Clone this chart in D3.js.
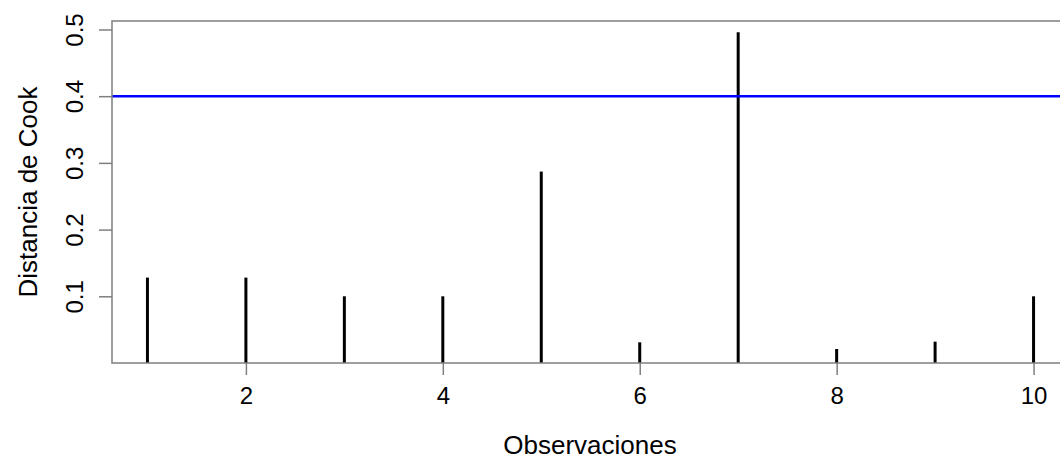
<!DOCTYPE html>
<html>
<head>
<meta charset="utf-8">
<script src="https://cdn.jsdelivr.net/npm/d3@7"></script>
<style>
  body { margin: 0; background: #fff; }
  text { font-family: "Liberation Sans", Arial, sans-serif; fill: #000; }
</style>
</head>
<body>
<svg id="chart"></svg>
<script>
// Cook's distance per observation
const observations = [1, 2, 3, 4, 5, 6, 7, 8, 9, 10];
const cookValues = [0.128, 0.128, 0.100, 0.100, 0.287, 0.031, 0.496, 0.021, 0.032, 0.100];
const cutoff = 0.4;
const xTicks = [2, 4, 6, 8, 10];
const yTicks = [0.1, 0.2, 0.3, 0.4, 0.5];

const svgWidth = 1060;
const svgHeight = 460;
const plot = { left: 112, top: 21, right: 1069, bottom: 363 };

const svg = d3.select('#chart')
  .attr('width', svgWidth)
  .attr('height', svgHeight);

const xScale = d3.scaleLinear()
  .domain([0.64, 10.36])
  .range([plot.left, plot.right]);

const yScale = d3.scaleLinear()
  .domain([0, 0.5127])
  .range([plot.bottom, plot.top]);

svg.append('defs').append('clipPath')
  .attr('id', 'plotClip')
  .append('rect')
  .attr('x', plot.left)
  .attr('y', plot.top)
  .attr('width', plot.right - plot.left)
  .attr('height', plot.bottom - plot.top);

const inner = svg.append('g').attr('clip-path', 'url(#plotClip)');

// vertical "h" lines
inner.selectAll('.spike')
  .data(observations)
  .enter()
  .append('line')
  .attr('class', 'spike')
  .attr('x1', d => xScale(d))
  .attr('x2', d => xScale(d))
  .attr('y1', yScale(0))
  .attr('y2', (d, i) => yScale(cookValues[i]))
  .attr('stroke', '#000')
  .attr('stroke-width', 3);

// cutoff line
inner.append('line')
  .attr('x1', plot.left)
  .attr('x2', plot.right)
  .attr('y1', yScale(cutoff))
  .attr('y2', yScale(cutoff))
  .attr('stroke', '#0000ff')
  .attr('stroke-width', 2.5);

// box
svg.append('rect')
  .attr('x', plot.left)
  .attr('y', plot.top)
  .attr('width', plot.right - plot.left)
  .attr('height', plot.bottom - plot.top)
  .attr('fill', 'none')
  .attr('stroke', '#7f7f7f')
  .attr('stroke-width', 1.5);

// x axis
const xAxisGroup = svg.append('g')
  .attr('transform', 'translate(0,' + plot.bottom + ')')
  .call(d3.axisBottom(xScale).tickValues(xTicks).tickSize(12).tickPadding(12).tickFormat(d3.format('d')));
xAxisGroup.select('.domain').remove();
xAxisGroup.selectAll('line').attr('stroke', '#7f7f7f').attr('stroke-width', 1.5);
xAxisGroup.selectAll('text').attr('font-size', '24px').attr('fill', '#000')
  .attr('font-family', '"Liberation Sans", Arial, sans-serif');

// y axis
const yAxisGroup = svg.append('g')
  .attr('transform', 'translate(' + plot.left + ',0)')
  .call(d3.axisLeft(yScale).tickValues(yTicks).tickSize(13).tickFormat(d3.format('.1f')));
yAxisGroup.select('.domain').remove();
yAxisGroup.selectAll('line').attr('stroke', '#7f7f7f').attr('stroke-width', 1.5);
yAxisGroup.selectAll('text')
  .attr('x', null).attr('dy', null)
  .attr('text-anchor', 'middle')
  .attr('font-size', '24px').attr('fill', '#000')
  .attr('font-family', '"Liberation Sans", Arial, sans-serif')
  .attr('transform', 'translate(' + (83 - plot.left) + ',0) rotate(-90)');

// axis titles
svg.append('text')
  .attr('x', (plot.left + svgWidth) / 2 + 4)
  .attr('y', 454)
  .attr('text-anchor', 'middle')
  .attr('font-size', '26px')
  .text('Observaciones');

svg.append('text')
  .attr('transform', 'translate(37,' + ((plot.top + plot.bottom) / 2) + ') rotate(-90)')
  .attr('text-anchor', 'middle')
  .attr('font-size', '26px')
  .text('Distancia de Cook');
</script>
</body>
</html>
